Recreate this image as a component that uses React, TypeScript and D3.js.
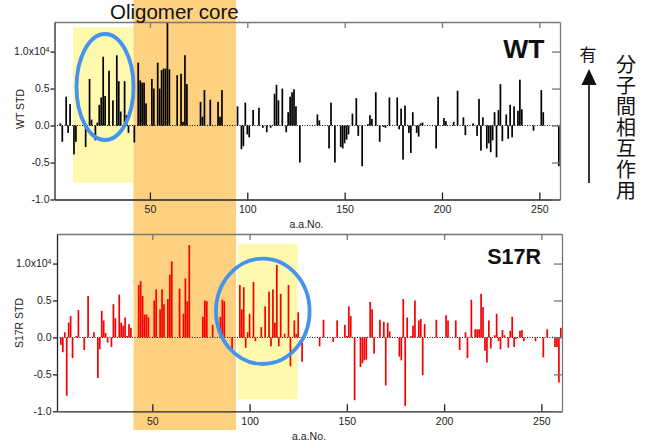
import React, { useEffect, useRef } from "react";
import * as d3 from "d3";

// values, in units of 1.0x10^4
const wtResidues = [4, 5, 7, 8, 9, 11, 12, 17, 19, 20, 22, 23, 24, 25, 26, 27, 29, 31, 33, 34, 35, 37, 38, 39, 42, 44, 45, 46, 47, 48, 51, 52, 54, 55, 56, 57, 58, 59, 60, 64, 66, 67, 68, 69, 76, 77, 78, 81, 85, 86, 87, 95, 97, 98, 99, 100, 101, 103, 106, 108, 110, 112, 114, 115, 116, 118, 120, 121, 122, 123, 124, 125, 127, 136, 137, 142, 143, 145, 148, 149, 150, 151, 152, 154, 156, 157, 159, 162, 163, 164, 166, 168, 170, 171, 173, 177, 178, 179, 180, 181, 183, 184, 185, 187, 188, 189, 190, 197, 198, 201, 202, 206, 208, 211, 212, 216, 218, 219, 220, 221, 223, 224, 225, 226, 227, 228, 229, 230, 231, 233, 234, 235, 236, 237, 239, 240, 241, 247, 251, 252, 260];
const wtValues = [0.03, -0.22, 0.39, -0.1, 0.29, -0.39, -0.22, -0.29, 0.63, 0.08, -0.2, 0.04, 0.28, 0.38, 0.93, 0.4, 0.74, 0.34, 0.95, 0.6, 0.19, 0.6, 0.14, -0.1, -0.23, 0.85, 0.61, 0.58, 0.58, 0.3, 0.63, 0.5, 0.85, 0.5, 0.75, 0.77, 0.77, 1.45, 0.76, 0.68, 0.7, 0.05, 0.95, 0.56, 0.32, 0.12, 0.48, 0.35, 0.32, 0.12, 0.48, 0.26, -0.32, -0.28, 0.31, -0.12, -0.16, 0.21, 0.24, -0.03, -0.09, -0.03, 0.43, 0.55, 0.34, 0.5, -0.09, 0.18, 0.39, 0.45, 0.49, 0.26, -0.5, 0.15, 0.07, -0.31, 0.31, -0.5, -0.29, -0.31, -0.24, -0.19, -0.12, 0.16, 0.37, -0.14, -0.55, 0.02, 0.14, 0.09, 0.45, -0.22, -0.02, -0.03, 0.38, 0.38, -0.05, 0.23, -0.46, 0.27, -0.1, -0.37, 0.18, -0.1, -0.15, 0.03, 0.04, -0.31, 0.39, 0.1, 0.06, 0.05, 0.47, 0.11, -0.13, 0.03, -0.14, 0.36, -0.34, 0.11, -0.31, -0.24, -0.36, -0.2, 0.18, -0.43, 0.21, 0.56, -0.21, 0.15, -0.18, 0.28, -0.16, 0.26, 0.2, 0.62, 0.22, -0.07, 0.48, 0.18, -0.55];

const s17rResidues = [3, 4, 5, 6, 7, 8, 9, 11, 12, 15, 17, 20, 22, 23, 24, 25, 26, 27, 29, 30, 31, 33, 34, 35, 36, 37, 38, 39, 43, 44, 45, 46, 47, 48, 51, 52, 54, 55, 56, 58, 59, 60, 64, 66, 67, 68, 69, 76, 77, 78, 81, 85, 86, 87, 91, 95, 96, 97, 98, 99, 100, 102, 103, 106, 108, 110, 111, 112, 113, 114, 115, 116, 118, 120, 121, 123, 124, 125, 127, 136, 138, 143, 145, 149, 150, 151, 152, 154, 157, 158, 159, 160, 162, 163, 164, 167, 169, 170, 171, 172, 177, 178, 179, 180, 181, 183, 184, 185, 187, 188, 189, 190, 196, 201, 202, 206, 208, 211, 212, 214, 216, 217, 218, 219, 220, 221, 222, 223, 224, 226, 227, 228, 229, 230, 231, 233, 234, 235, 236, 237, 239, 240, 241, 247, 251, 253, 257, 258, 259, 260];
const s17rValues = [-0.1, -0.2, 0.07, -0.79, 0.2, 0.29, -0.28, 0.02, 0.37, -0.17, 0.56, 0.07, -0.55, -0.16, 0.36, 0.23, 0.06, -0.07, -0.13, 0.45, 0.26, 0.58, 0.2, 0.16, 0.27, 0.02, 0.18, 0.13, 0.71, 0.76, 0.56, 0.31, 0.31, 0.27, 0.5, 0.65, 0.38, 0.65, 0.45, 0.52, 0.85, 1.03, 0.66, 0.32, 0.8, 0.49, 1.25, 0.28, 0.5, 0.49, 0.17, 0.28, 0.51, 0.49, -0.17, 0.71, 0.38, 0.68, -0.14, 0.07, 0.32, 0.75, -0.05, 0.14, 0.42, 0.62, -0.12, 0.65, 0.2, 0.98, -0.12, 0.59, 0.05, 0.71, -0.39, 0.23, 0.05, 0.34, -0.33, -0.12, 0.24, -0.06, 0.23, 0.17, 0.02, 0.42, 0.29, -0.85, -0.4, -0.35, -0.31, -0.3, 0.48, 0.38, -0.22, 0.24, 0.21, -0.65, 0.2, 0.08, -0.26, -0.31, 0.52, -0.93, 0.27, 0.02, 0.16, 0.5, 0.23, 0.25, -0.51, 0.18, 0.24, 0.3, 0.23, 0.23, -0.17, 0.07, -0.28, 0.51, 0.11, 0.11, 0.11, 0.59, 0.41, -0.18, -0.34, 0.23, -0.15, 0.03, 0.32, -0.05, -0.16, 0.1, 0.03, -0.14, 0.09, 0.28, -0.13, -0.02, 0.09, 0.1, -0.05, -0.05, -0.27, 0.11, -0.13, -0.13, -0.61, 0.13];

const xTicks = [50, 100, 150, 200, 250];
const yTicks = [-1, -0.5, 0, 0.5, 1];
const yTickLabels = ["-1.0", "-0.5", "0.0", "0.5", "1.0x10"];
const sideLabel = "分子間相互作用";

const FONT = "'Liberation Sans', Arial, sans-serif";
const CJK = "'Noto Sans CJK JP', sans-serif";

function drawPanel(svg, p) {
  const x = d3.scaleLinear().domain([1, 260.6]).range([p.left, p.right]);
  const y = d3.scaleLinear().domain([-1, 1.4]).range([p.bottom, p.top]);
  const g = svg.append("g");

  g.append("line")
    .attr("x1", p.left).attr("x2", p.right)
    .attr("y1", y(0)).attr("y2", y(0))
    .attr("stroke", "#000").attr("stroke-width", 1)
    .attr("stroke-dasharray", "1,1.5");

  const data = d3.zip(p.residues, p.values);
  const clamp = v => Math.max(-1, Math.min(1.4, v));
  g.selectAll("rect.bar")
    .data(data)
    .join("rect")
    .attr("class", "bar")
    .attr("x", d => x(d[0]) - 0.85)
    .attr("width", 1.7)
    .attr("y", d => y(Math.max(0, clamp(d[1]))))
    .attr("height", d => Math.abs(y(clamp(d[1])) - y(0)))
    .attr("fill", p.color);

  const styleAxis = (sel, stroke) => {
    sel.select(".domain").attr("stroke", stroke).attr("stroke-width", 1.3);
    sel.selectAll(".tick line").attr("stroke", stroke).attr("stroke-width", 1.3);
    sel.selectAll("text")
      .attr("font-family", FONT)
      .attr("font-size", 10.5)
      .attr("fill", "#222");
  };

  const bottomAxis = g.append("g")
    .attr("transform", `translate(0,${p.bottom})`)
    .call(d3.axisBottom(x).tickValues(xTicks).tickSize(-7).tickSizeOuter(0).tickPadding(6));
  styleAxis(bottomAxis, "#222");

  const topAxis = g.append("g")
    .attr("transform", `translate(0,${p.top})`)
    .call(d3.axisTop(x).tickValues(xTicks).tickSize(-6).tickSizeOuter(0).tickFormat(() => ""));
  styleAxis(topAxis, "#777");

  const rightAxis = g.append("g")
    .attr("transform", `translate(${p.right},0)`)
    .call(d3.axisRight(y).tickValues(yTicks).tickSize(-8).tickSizeOuter(0).tickFormat(() => ""));
  styleAxis(rightAxis, "#777");

  const leftAxis = g.append("g")
    .attr("transform", `translate(${p.left},0)`)
    .call(d3.axisLeft(y).tickValues(yTicks).tickSize(4).tickSizeOuter(0).tickPadding(p.leftPad)
      .tickFormat(d => yTickLabels[yTicks.indexOf(d)]));
  styleAxis(leftAxis, "#222");
  leftAxis.selectAll(".tick text")
    .filter(d => d === 1)
    .append("tspan")
    .attr("dy", "-0.55em")
    .attr("font-size", 7)
    .text("4");

  g.append("text")
    .attr("transform", `translate(${p.yLabelX},${p.yLabelY}) rotate(-90)`)
    .attr("text-anchor", "middle")
    .attr("font-family", FONT)
    .attr("font-size", 10.5)
    .attr("fill", "#222")
    .text(p.yLabel);

  g.append("text")
    .attr("x", p.titleX).attr("y", p.titleY)
    .attr("text-anchor", "middle")
    .attr("font-family", FONT)
    .attr("font-size", 10.5)
    .attr("fill", "#222")
    .text("a.a.No.");

  g.append("text")
    .attr("x", p.tagX).attr("y", p.tagY)
    .attr("text-anchor", "end")
    .attr("font-family", FONT)
    .attr("font-weight", "bold")
    .attr("font-size", p.tagSize)
    .attr("fill", "#111")
    .text(p.tag);
}

const App = () => {
  const svgRef = useRef(null);

  useEffect(() => {
    const svg = d3.select(svgRef.current);
    svg.selectAll("*").remove();

    // highlight areas
    svg.append("rect").attr("x", 73).attr("y", 27.3).attr("width", 60.5).attr("height", 155.4).attr("fill", "#FFF9AE");
    svg.append("rect").attr("x", 237.7).attr("y", 244).attr("width", 60).attr("height", 155.3).attr("fill", "#FFF9AE");
    svg.append("rect").attr("x", 133.5).attr("y", 0).attr("width", 102.5).attr("height", 430).attr("fill", "#FDD17F");

    drawPanel(svg, {
      left: 54.5, right: 560, top: 22, bottom: 199.5,
      residues: wtResidues, values: wtValues, color: "#000",
      leftPad: 1, yLabel: "WT STD", yLabelX: 24, yLabelY: 109,
      titleX: 306.5, titleY: 228,
      tag: "WT", tagX: 544.5, tagY: 57.5, tagSize: 26.5
    });

    drawPanel(svg, {
      left: 57, right: 562, top: 234, bottom: 411.3,
      residues: s17rResidues, values: s17rValues, color: "#F50000",
      leftPad: 1.5, yLabel: "S17R STD", yLabelX: 23, yLabelY: 323,
      titleX: 309, titleY: 440,
      tag: "S17R", tagX: 541, tagY: 264, tagSize: 21.5
    });

    svg.append("ellipse")
      .attr("cx", 105).attr("cy", 87).attr("rx", 28.5).attr("ry", 53)
      .attr("fill", "none").attr("stroke", "#4493EE").attr("stroke-width", 3.8);
    svg.append("ellipse")
      .attr("cx", 262.8).attr("cy", 311.3).attr("rx", 46.8).attr("ry", 52.7)
      .attr("fill", "none").attr("stroke", "#4493EE").attr("stroke-width", 3.8);

    svg.append("text")
      .attr("x", 110).attr("y", 18.6)
      .attr("font-family", FONT).attr("font-size", 20.5).attr("fill", "#111")
      .text("Oligomer core");

    // interaction arrow on the right
    svg.append("text")
      .attr("x", 588).attr("y", 60.5)
      .attr("text-anchor", "middle")
      .attr("font-family", CJK).attr("font-size", 17).attr("fill", "#111")
      .text("有");
    svg.append("line")
      .attr("x1", 589).attr("x2", 589).attr("y1", 84).attr("y2", 183)
      .attr("stroke", "#111").attr("stroke-width", 1.7);
    svg.append("path")
      .attr("d", "M589,69 L581.5,85 L596.5,85 Z")
      .attr("fill", "#111");
    svg.append("text")
      .attr("x", 626)
      .attr("y", 54)
      .attr("writing-mode", "vertical-rl")
      .attr("letter-spacing", 1)
      .attr("font-family", CJK).attr("font-size", 20).attr("fill", "#111")
      .text(sideLabel);
  }, []);

  return (
    <div>
      <svg
        ref={svgRef}
        width={649}
        height={441}
        style={{ position: "absolute", left: 0, top: 0, background: "#fff" }}
      ></svg>
    </div>
  );
};

export default App;
